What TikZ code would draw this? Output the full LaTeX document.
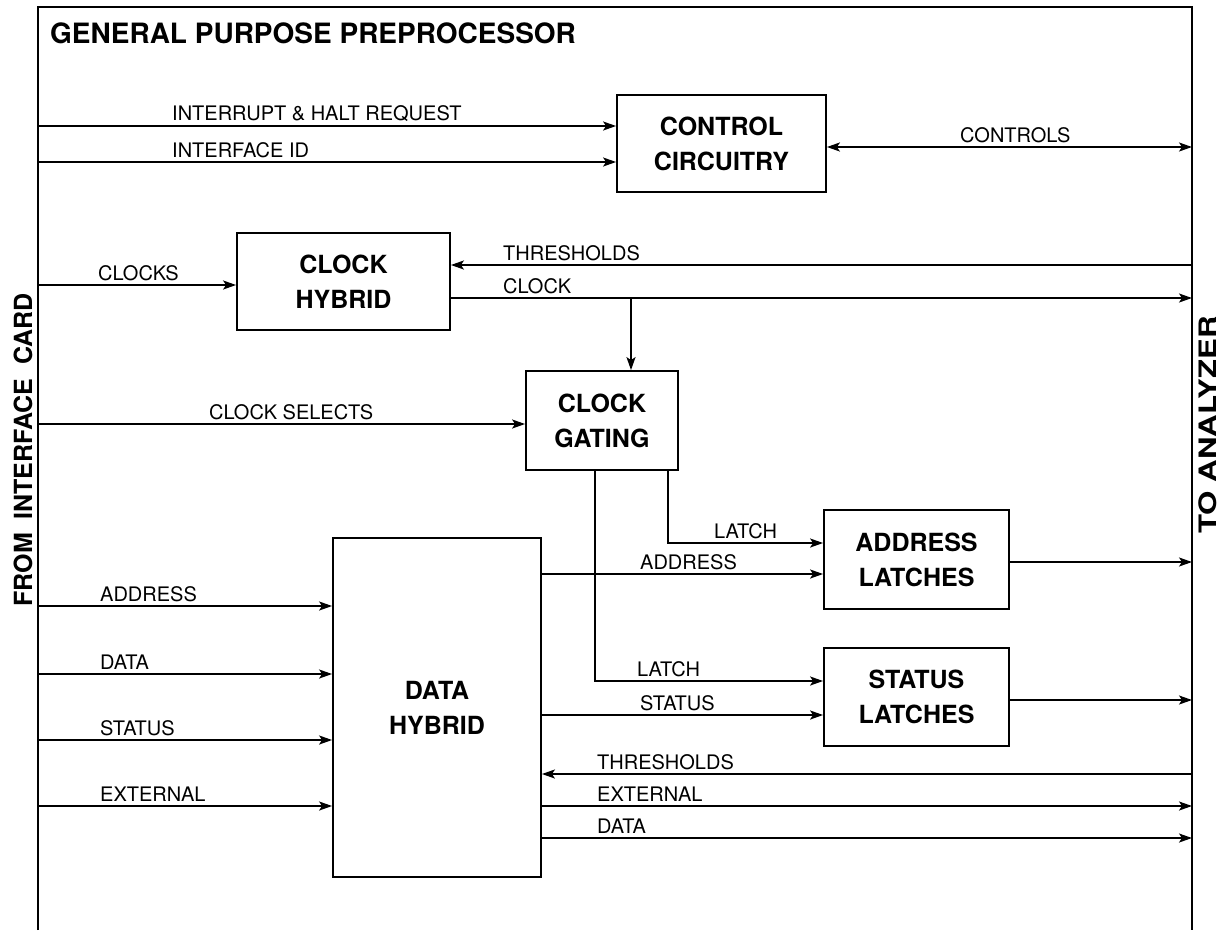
\documentclass[tikz,border=0pt]{standalone}
\usepackage{fontspec}
\setmainfont{TeX Gyre Heros}
\usetikzlibrary{arrows.meta,calc}
\begin{document}
\begin{tikzpicture}[x=1pt,y=-1pt,
  wire/.style={line width=1.8pt},
  arr/.style={wire,-{Stealth[length=13pt,width=9pt,inset=3pt]}},
  darr/.style={wire,{Stealth[length=13pt,width=9pt,inset=3pt]}-{Stealth[length=13pt,width=9pt,inset=3pt]}},
  box/.style={draw,line width=1.8pt,align=center,inner sep=0pt,
    font=\bfseries\fontsize{25}{35}\selectfont},
  lbl/.style={font=\fontsize{20}{22}\selectfont,anchor=south west,inner sep=0pt},
  side/.style={font=\bfseries\fontsize{25}{27}\selectfont,rotate=90,inner sep=0pt}]
\useasboundingbox (0,0) rectangle (1222,930);
% frame
\draw[wire] (38,930) -- (38,7) -- (1192,7) -- (1192,930);
\node[font=\bfseries\fontsize{28}{30}\selectfont,anchor=west,inner sep=0pt] (title) at (50,33) {GENERAL PURPOSE PREPROCESSOR};
\node[side] (from) at (23,450) {FROM\ \ INTERFACE\ \ CARD};
\node[side,font=\bfseries\fontsize{24}{26}\selectfont] (to) at (1208,425) {\scalebox{1.3}[1]{TO ANALYZER}};

% boxes
\node[box,minimum width=209pt,minimum height=97pt] (ctrl) at (721.5,143.5) {CONTROL\\CIRCUITRY};
\node[box,minimum width=213pt,minimum height=97pt] (chyb) at (343.5,281.5) {CLOCK\\HYBRID};
\node[box,minimum width=152pt,minimum height=99pt] (gate) at (602,420.5) {CLOCK\\GATING};
\node[box,minimum width=185pt,minimum height=99pt] (alat) at (916.5,559.5) {ADDRESS\\LATCHES};
\node[box,minimum width=185pt,minimum height=98pt] (slat) at (916.5,697) {STATUS\\LATCHES};
\node[box,minimum width=208pt,minimum height=339pt] (dhyb) at (437,707.5) {DATA\\HYBRID};

% left frame coordinates
\coordinate (Lirq) at (38,126);
\coordinate (Lid) at (38,162);
\coordinate (Lclk) at (38,285);
\coordinate (Lsel) at (38,424);
\coordinate (Ladr) at (38,606);
\coordinate (Ldat) at (38,674);
\coordinate (Lsta) at (38,740);
\coordinate (Lext) at (38,806);
% right frame coordinates
\coordinate (Rctl) at (1192,147);
\coordinate (Rthr1) at (1192,265);
\coordinate (Rclk) at (1192,298);
\coordinate (Radr) at (1192,562);
\coordinate (Rsta) at (1192,700);
\coordinate (Rthr2) at (1192,774);
\coordinate (Rext) at (1192,806);
\coordinate (Rdat) at (1192,838);
% internal
\coordinate (cg) at (631,298);
\coordinate (x595) at (595,0);
\coordinate (x668) at (668,0);
\coordinate (yal) at (0,543);
\coordinate (ysl) at (0,681);
\coordinate (yao) at (0,574);
\coordinate (yso) at (0,715);

% control
\draw[arr] (Lirq) -- (Lirq -| ctrl.west);
\node[lbl] at (172,122) {INTERRUPT \& HALT REQUEST};
\draw[arr] (Lid) -- (Lid -| ctrl.west);
\node[lbl] at (172,158) {INTERFACE ID};
\draw[darr] (Rctl -| ctrl.east) -- (Rctl);
\node[lbl] at (960,143) {CONTROLS};

% clock hybrid
\draw[arr] (Lclk) -- (Lclk -| chyb.west);
\node[lbl] at (98,281) {CLOCKS};
\draw[arr] (Rthr1) -- (Rthr1 -| chyb.east);
\node[lbl] at (503,261) {THRESHOLDS};
\draw[arr] (Rclk -| chyb.east) -- (Rclk);
\node[lbl] at (503,294) {CLOCK};
\draw[arr] (cg) -- (cg |- gate.north);

% clock gating
\draw[arr] (Lsel) -- (Lsel -| gate.west);
\node[lbl] at (209,420) {CLOCK SELECTS};
\draw[arr] (gate.south -| x668) |- (alat.west |- yal);
\node[lbl] at (714,539) {LATCH};
\draw[arr] (gate.south -| x595) |- (slat.west |- ysl);
\node[lbl] at (637,677) {LATCH};

% latches outputs
\draw[arr] (alat.east |- Radr) -- (Radr);
\draw[arr] (slat.east |- Rsta) -- (Rsta);

% data hybrid inputs
\draw[arr] (Ladr) -- (Ladr -| dhyb.west);
\node[lbl] at (100,602) {ADDRESS};
\draw[arr] (Ldat) -- (Ldat -| dhyb.west);
\node[lbl] at (100,670) {DATA};
\draw[arr] (Lsta) -- (Lsta -| dhyb.west);
\node[lbl] at (100,736) {STATUS};
\draw[arr] (Lext) -- (Lext -| dhyb.west);
\node[lbl] at (100,802) {EXTERNAL};

% data hybrid outputs
\draw[arr] (dhyb.east |- yao) -- (alat.west |- yao);
\node[lbl] at (640,570) {ADDRESS};
\draw[arr] (dhyb.east |- yso) -- (slat.west |- yso);
\node[lbl] at (640,711) {STATUS};
\draw[arr] (Rthr2) -- (Rthr2 -| dhyb.east);
\node[lbl] at (597,770) {THRESHOLDS};
\draw[arr] (Rext -| dhyb.east) -- (Rext);
\node[lbl] at (597,802) {EXTERNAL};
\draw[arr] (Rdat -| dhyb.east) -- (Rdat);
\node[lbl] at (597,834) {DATA};
\end{tikzpicture}
\end{document}
